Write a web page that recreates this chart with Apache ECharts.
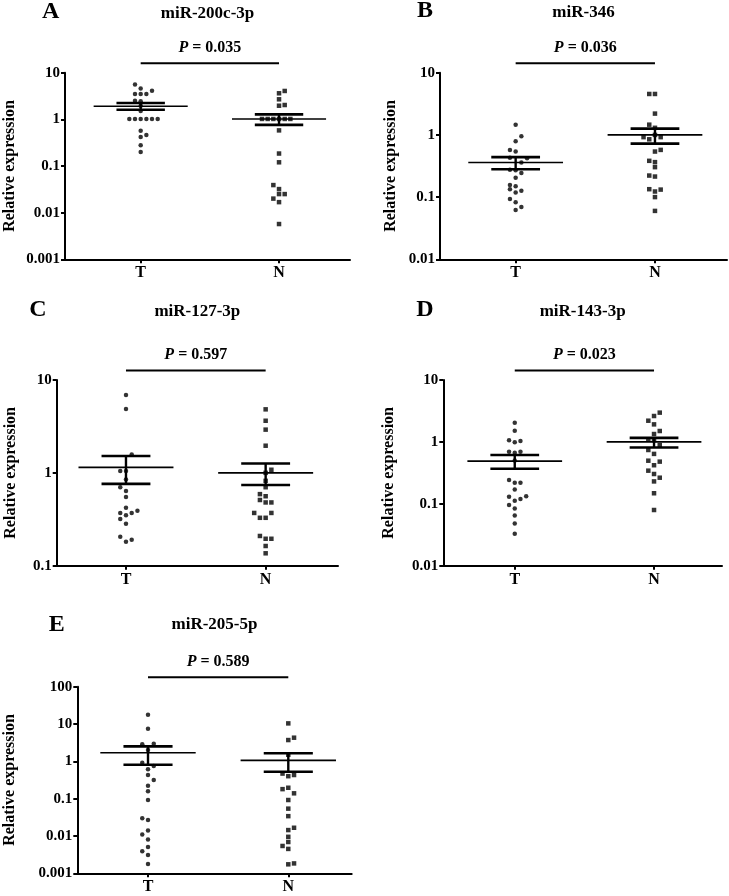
<!DOCTYPE html>
<html>
<head>
<meta charset="utf-8">
<script src="https://cdn.jsdelivr.net/npm/echarts@6/dist/echarts.min.js"></script>
<style>html,body{margin:0;padding:0;background:#fff;}#c{width:729px;height:896px;}</style>
</head>
<body>
<div id="c"></div>
<script>
// ---------------- DATA ----------------
const groupLabels = ['T', 'N'];
const panelLetters = ['A', 'B', 'C', 'D', 'E'];
const panelTitles = ['miR-200c-3p', 'miR-346', 'miR-127-3p', 'miR-143-3p', 'miR-205-5p'];
const pValues = ['0.035', '0.036', '0.597', '0.023', '0.589'];
const yMins = [0.001, 0.01, 0.1, 0.01, 0.001];
const yMaxs = [10, 10, 10, 10, 100];

// Panel A
const A_T = [5.6, 4.6, 4.1, 3.5, 3.5, 3.5, 2.5, 2.45, 1.96, 1.51, 1.02, 1.02, 1.02, 1.02, 1.02, 1.02, 0.57, 0.42, 0.46, 0.28, 0.20];
const A_Tcol = [-1, 0, 2, -1, 0, 1, -1, 0, 0, 0, -2, -1, 0, 1, 2, 3, 0, 0, 1, 0, 0];
const A_N = [4.06, 3.62, 2.69, 2.03, 1.96, 1.02, 1.02, 1.02, 1.02, 1.02, 1.02, 0.58, 0.185, 0.12, 0.039, 0.032, 0.025, 0.025, 0.020, 0.0168, 0.0057];
const A_Ncol = [1, 0, 0, 1, 0, -3, -2, -1, 0, 1, 2, 0, 0, 0, -1, 0, 0, 1, -1, 0, 0];
// Panel B
const B_T = [1.46, 0.95, 0.79, 0.574, 0.54, 0.43, 0.42, 0.36, 0.274, 0.27, 0.243, 0.204, 0.157, 0.15, 0.134, 0.126, 0.119, 0.093, 0.083, 0.069, 0.062];
const B_Tcol = [0, 1, 0, -1, 0, -1, 2, 1, -1, 0, 1, 0, -1, 0, -1, 1, 0, -1, 0, 1, 0];
const B_N = [4.55, 4.55, 2.2, 1.46, 1.3, 0.92, 0.85, 0.92, 1.0, 0.54, 0.574, 0.383, 0.365, 0.303, 0.222, 0.214, 0.134, 0.123, 0.132, 0.1, 0.06];
const B_Ncol = [-1, 0, 0, -1, 0, -2, -1, 1, 0, 0, 1, -1, 0, 0, -1, 0, -1, 0, 1, 0, 0];
// Panel C
const C_T = [6.88, 4.87, 1.58, 1.05, 1.05, 0.85, 0.70, 0.637, 0.55, 0.42, 0.37, 0.35, 0.37, 0.39, 0.318, 0.283, 0.205, 0.181, 0.19];
const C_Tcol = [0, 0, 1, -1, 0, 0, -1, 0, 0, 0, -1, 0, 1, 2, -1, 0, -1, 0, 1];
const C_N = [4.83, 3.64, 2.92, 1.96, 1.08, 1.0, 0.82, 0.70, 0.59, 0.56, 0.51, 0.48, 0.48, 0.37, 0.328, 0.328, 0.37, 0.209, 0.195, 0.195, 0.163, 0.136];
const C_Ncol = [0, 0, 0, 0, 1, 0, 0, 0, -1, 0, -1, 0, 1, -2, -1, 0, 1, -1, 0, 1, 0, 0];
// Panel D
const D_T = [2.04, 1.52, 1.06, 0.99, 1.03, 0.695, 0.67, 0.695, 0.5, 0.243, 0.219, 0.219, 0.171, 0.13, 0.112, 0.12, 0.132, 0.096, 0.0836, 0.065, 0.048, 0.0329];
const D_Tcol = [0, 0, -1, 0, 1, -1, 0, 1, 0, -1, 0, 1, 0, -1, 0, 1, 2, -1, 0, 0, 0, 0];
const D_N = [2.97, 2.62, 2.2, 1.92, 1.5, 1.34, 1.1, 1.07, 0.89, 0.74, 0.64, 0.497, 0.48, 0.42, 0.343, 0.303, 0.264, 0.23, 0.148, 0.0794];
const D_Ncol = [1, 0, -1, 0, 1, 0, -1, 0, 1, -1, 0, -1, 1, 0, -1, 0, 1, 0, 0, 0];
// Panel E
const E_T = [17.7, 7.5, 2.86, 2.96, 2.0, 0.92, 0.75, 0.61, 0.43, 0.316, 0.222, 0.157, 0.092, 0.030, 0.027, 0.0141, 0.011, 0.0081, 0.0051, 0.0039, 0.0031, 0.00177];
const E_Tcol = [0, 0, -1, 1, 0, -1, 1, 0, 0, 1, 0, 0, 0, -1, 0, 0, -1, 0, 0, -1, 0, 0];
const E_N = [10.4, 4.3, 3.72, 1.5, 0.47, 0.43, 0.40, 0.18, 0.196, 0.139, 0.092, 0.054, 0.034, 0.0166, 0.0144, 0.0095, 0.0069, 0.0054, 0.0045, 0.00174, 0.00184];
const E_Ncol = [0, 1, 0, 0, -1, 1, 0, -1, 0, 1, 0, 0, 0, 1, 0, 0, 0, -1, 0, 0, 1];

// mean and SEM (T, N) per panel
const meanT = [1.91, 0.36, 1.146, 0.49, 1.7];
const semLowT = [1.61, 0.28, 0.76, 0.369, 0.81];
const semHighT = [2.24, 0.44, 1.52, 0.614, 2.52];
const meanN = [1.02, 1.0, 1.0, 1.0, 1.06];
const semLowN = [0.76, 0.724, 0.74, 0.81, 0.526];
const semHighN = [1.28, 1.26, 1.26, 1.16, 1.64];

const tValues = [A_T, B_T, C_T, D_T, E_T];
const tCols = [A_Tcol, B_Tcol, C_Tcol, D_Tcol, E_Tcol];
const nValues = [A_N, B_N, C_N, D_N, E_N];
const nCols = [A_Ncol, B_Ncol, C_Ncol, D_Ncol, E_Ncol];

// ---------------- LAYOUT ----------------
const grids = [
  {left: 65, top: 72.7, width: 285, height: 186.6},
  {left: 440, top: 72.7, width: 287, height: 186.6},
  {left: 56.7, top: 380, width: 281.3, height: 185.7},
  {left: 443.3, top: 380, width: 278.7, height: 185.7},
  {left: 77.3, top: 686.7, width: 274.4, height: 186.6}
];
const xRanges = [[0.453, 2.513], [0.457, 2.517], [0.504, 2.518], [0.487, 2.488], [0.496, 2.452]];
const nameGaps = [47, 41, 38, 46, 59];
const letterPos = [[50.7, 12], [425, 11], [38, 310], [425, 310], [56.7, 625]];
const titleY = [13.3, 13, 311.7, 311.7, 625];

const FONT = '"Liberation Serif", "Times New Roman", serif';
const JITTER = 0.041;
const MEAN_HALF = 0.34;
const SEM_HALF = 0.175;

const xAxes = [], yAxes = [], series = [], graphics = [];

for (let i = 0; i < 5; i++) {
  xAxes.push({
    gridIndex: i, type: 'value', min: xRanges[i][0], max: xRanges[i][1],
    splitLine: {show: false},
    axisLine: {show: true, lineStyle: {color: '#000', width: 2}},
    axisTick: {show: true, customValues: [1, 2], length: 4, lineStyle: {color: '#000', width: 2}},
    axisLabel: {customValues: [1, 2], formatter: v => groupLabels[Math.round(v) - 1] || '',
      color: '#000', fontFamily: FONT, fontWeight: 'bold', fontSize: 16, margin: 6}
  });
  yAxes.push({
    gridIndex: i, type: 'log', logBase: 10, min: yMins[i], max: yMaxs[i],
    splitLine: {show: false}, minorTick: {show: false},
    axisLine: {show: true, lineStyle: {color: '#000', width: 2}},
    axisTick: {show: true, length: 4, lineStyle: {color: '#000', width: 2}},
    axisLabel: {formatter: v => String(Number(Number(v).toPrecision(1))),
      color: '#000', fontFamily: FONT, fontWeight: 'bold', fontSize: 15, margin: 5},
    name: 'Relative expression', nameLocation: 'middle', nameGap: nameGaps[i],
    nameTextStyle: {color: '#000', fontFamily: FONT, fontWeight: 'bold', fontSize: 16}
  });
  series.push({
    type: 'scatter', xAxisIndex: i, yAxisIndex: i, symbol: 'circle', symbolSize: 4.5,
    itemStyle: {color: '#000'}, silent: true,
    data: tValues[i].map((v, k) => [1 + tCols[i][k] * JITTER, v])
  });
  series.push({
    type: 'scatter', xAxisIndex: i, yAxisIndex: i, symbol: 'rect', symbolSize: 4.5,
    itemStyle: {color: '#000'}, silent: true,
    data: nValues[i].map((v, k) => [2 + nCols[i][k] * JITTER, v])
  });
  series.push({
    type: 'custom', xAxisIndex: i, yAxisIndex: i, silent: true, z: 5,
    data: [[1, meanT[i], semLowT[i], semHighT[i]], [2, meanN[i], semLowN[i], semHighN[i]]],
    renderItem: (params, api) => {
      const x = api.value(0), m = api.value(1), lo = api.value(2), hi = api.value(3);
      const mL = api.coord([x - MEAN_HALF, m]), mR = api.coord([x + MEAN_HALF, m]);
      const hL = api.coord([x - SEM_HALF, hi]), hR = api.coord([x + SEM_HALF, hi]);
      const lL = api.coord([x - SEM_HALF, lo]), lR = api.coord([x + SEM_HALF, lo]);
      const c = api.coord([x, m]);
      return {type: 'group', children: [
        {type: 'line', shape: {x1: mL[0], y1: mL[1], x2: mR[0], y2: mR[1]}, style: {stroke: '#000', lineWidth: 1.6}},
        {type: 'line', shape: {x1: hL[0], y1: hL[1], x2: hR[0], y2: hR[1]}, style: {stroke: '#000', lineWidth: 2.6}},
        {type: 'line', shape: {x1: lL[0], y1: lL[1], x2: lR[0], y2: lR[1]}, style: {stroke: '#000', lineWidth: 2.6}},
        {type: 'line', shape: {x1: c[0], y1: hL[1], x2: c[0], y2: lL[1]}, style: {stroke: '#000', lineWidth: 2.4}}
      ]};
    }
  });
  const pv = pValues[i];
  series.push({
    type: 'custom', xAxisIndex: i, yAxisIndex: i, silent: true, clip: false,
    data: [[1, yMaxs[i], 2]],
    renderItem: (params, api) => {
      const p1 = api.coord([api.value(0), api.value(1)]);
      const p2 = api.coord([api.value(2), api.value(1)]);
      const y = p1[1] - 9.5;
      return {type: 'group', children: [
        {type: 'line', shape: {x1: p1[0], y1: y, x2: p2[0], y2: y}, style: {stroke: '#000', lineWidth: 2}},
        {type: 'text', x: (p1[0] + p2[0]) / 2, y: y - 15.5, style: {
          text: '{i|P} = ' + pv, fill: '#000', fontFamily: FONT, fontWeight: 'bold', fontSize: 16,
          align: 'center', verticalAlign: 'middle',
          rich: {i: {fontStyle: 'italic', fontWeight: 'bold', fontFamily: FONT, fontSize: 16, fill: '#000'}}
        }}
      ]};
    }
  });
  graphics.push({
    type: 'text', x: letterPos[i][0], y: letterPos[i][1],
    style: {text: panelLetters[i], fill: '#000', font: 'bold 24px ' + FONT, textAlign: 'center', textVerticalAlign: 'middle'}
  });
  graphics.push({
    type: 'text', x: grids[i].left + grids[i].width / 2, y: titleY[i],
    style: {text: panelTitles[i], fill: '#000', font: 'bold 17px ' + FONT, textAlign: 'center', textVerticalAlign: 'middle'}
  });
}

const chart = echarts.init(document.getElementById('c'), null, {renderer: 'canvas'});
chart.setOption({
  backgroundColor: '#fff',
  animation: false,
  grid: grids.map(g => Object.assign({containLabel: false}, g)),
  xAxis: xAxes,
  yAxis: yAxes,
  series: series,
  graphic: graphics
});
</script>
</body>
</html>
